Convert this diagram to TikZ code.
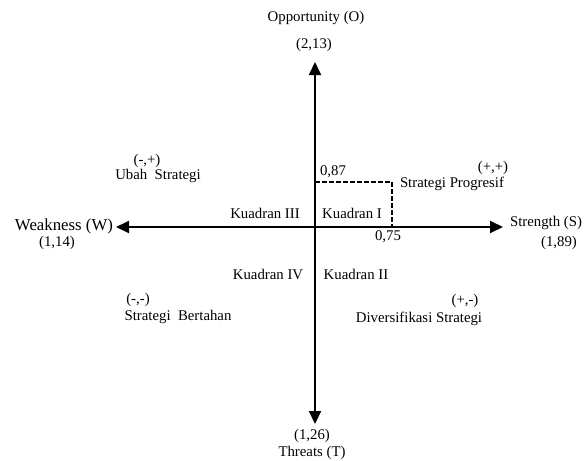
\documentclass[tikz,border=0pt]{standalone}
\usepackage{fontspec}
\setmainfont{Liberation Serif}
\usetikzlibrary{arrows.meta}
\begin{document}
\begin{tikzpicture}[x=1pt,y=-1pt,
  lbl/.style={inner sep=0pt,font=\fontsize{14.8}{17}\selectfont},
  big/.style={inner sep=0pt,font=\fontsize{16.8}{19}\selectfont},
  axis/.style={line width=1.9pt,-{Triangle[length=13pt,width=12pt]}},
  dash line/.style={line width=1.9pt,dash pattern=on 4.5pt off 2.5pt}]
\useasboundingbox (0,0) rectangle (587,461);
\coordinate (o) at (315,227);
\coordinate (top) at (315,62);
\coordinate (bot) at (315,424);
\coordinate (lft) at (116,227);
\coordinate (rgt) at (503,227);
\coordinate (d1) at (315,182);
\coordinate (d2) at (392,182);
\coordinate (d3) at (392,227);
\draw[axis] (o) -- (top);
\draw[axis] (o) -- (bot);
\draw[axis] (o) -- (lft);
\draw[axis] (o) -- (rgt);
\draw[dash line] (d1) -- (d2) -- (d3);
\node[lbl] (opp) at (316,18) {Opportunity (O)};
\node[lbl] (ov) at (314,45) {(2,13)};
\node[lbl] (thr) at (312,453) {Threats (T)};
\node[lbl] (tv) at (312,436) {(1,26)};
\node[big] (weak) at (64,226) {Weakness (W)};
\node[lbl] (wv) at (57,243) {(1,14)};
\node[lbl] (str) at (546,223) {Strength (S)};
\node[lbl] (sv) at (559,243) {(1,89)};
\node[lbl] (q3) at (265,213) {Kuadran III};
\node[lbl] (q1) at (352,213) {Kuadran I};
\node[lbl] (q4) at (268,274) {Kuadran IV};
\node[lbl] (q2) at (356,274) {Kuadran II};
\node[lbl] (v87) at (333,172) {0,87};
\node[lbl] (v75) at (388,237) {0,75};
\node[lbl] (pp) at (493,168) {(+,+)};
\node[lbl] (prog) at (452,184) {Strategi Progresif};
\node[lbl] (mp) at (147,161) {(-,+)};
\node[lbl] (ubah) at (158,176) {Ubah\ \ Strategi};
\node[lbl] (mm) at (138,300) {(-,-)};
\node[lbl] (bert) at (178,317) {Strategi\ \ Bertahan};
\node[lbl] (pm) at (465,301) {(+,-)};
\node[lbl] (div) at (419,319) {Diversifikasi Strategi};
\end{tikzpicture}
\end{document}
